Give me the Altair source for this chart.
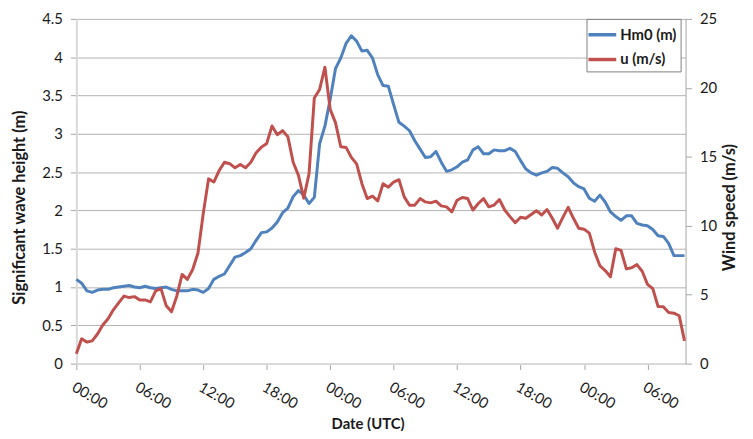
import altair as alt
import pandas as pd

# time in hours since first 00:00 (30-min samples)
hours = [i * 0.5 for i in range(116)]

hm0 = [
    1.10, 1.05, 0.95, 0.93, 0.96, 0.97, 0.97, 0.99, 1.00, 1.01,
    1.02, 1.00, 0.99, 1.01, 0.99, 0.98, 0.99, 1.00, 0.97, 0.95,
    0.95, 0.95, 0.97, 0.96, 0.93, 0.98, 1.10, 1.14, 1.17, 1.28,
    1.39, 1.41, 1.45, 1.50, 1.61, 1.71, 1.72, 1.77, 1.85, 1.97,
    2.03, 2.18, 2.26, 2.20, 2.09, 2.17, 2.87, 3.10, 3.45, 3.85,
    3.99, 4.18, 4.28, 4.21, 4.08, 4.09, 3.99, 3.77, 3.63, 3.62,
    3.38, 3.15, 3.10, 3.04, 2.91, 2.80, 2.69, 2.70, 2.77, 2.63,
    2.51, 2.53, 2.57, 2.63, 2.66, 2.79, 2.83, 2.74, 2.74, 2.79,
    2.78, 2.78, 2.81, 2.77, 2.65, 2.54, 2.49, 2.46, 2.49, 2.51,
    2.56, 2.55, 2.49, 2.44, 2.36, 2.31, 2.28, 2.16, 2.12, 2.20,
    2.11, 1.98, 1.92, 1.87, 1.93, 1.93, 1.83, 1.81, 1.80, 1.75,
    1.67, 1.66, 1.57, 1.41, 1.41, 1.41,
]

wind = [
    0.72, 1.80, 1.56, 1.65, 2.15, 2.80, 3.25, 3.90, 4.40, 4.90,
    4.79, 4.86, 4.62, 4.62, 4.48, 5.27, 5.44, 4.19, 3.76, 4.91,
    6.47, 6.11, 6.83, 8.02, 10.9, 13.4, 13.17, 14.0, 14.6, 14.5,
    14.2, 14.44, 14.2, 14.6, 15.3, 15.7, 15.97, 17.24, 16.6, 16.9,
    16.45, 14.6, 13.65, 12.0, 13.77, 19.27, 19.88, 21.5, 18.44, 17.48,
    15.73, 15.68, 14.96, 14.49, 13.05, 11.97, 12.14, 11.8, 13.05, 12.8,
    13.17, 13.34, 12.09, 11.49, 11.49, 11.97, 11.73, 11.66, 11.78, 11.44,
    11.37, 11.01, 11.85, 12.05, 11.97, 11.14, 11.61, 11.97, 11.37, 11.5,
    11.9, 11.14, 10.66, 10.22, 10.61, 10.54, 10.82, 11.09, 10.78, 11.18,
    10.54, 9.82, 10.61, 11.33, 10.54, 9.82, 9.75, 9.46, 8.1, 7.1,
    6.75, 6.30, 8.33, 8.21, 6.87, 6.95, 7.18, 6.70, 5.75, 5.44,
    4.14, 4.12, 3.71, 3.66, 3.47, 1.65,
]

series_names = ["Hm0 (m)", "u (m/s)"]
series_colors = ["#4F81BD", "#C0504D"]
x_tick_values = [0, 6, 12, 18, 24, 30, 36, 42, 48, 54]
x_tick_labels = ["00:00", "06:00", "12:00", "18:00"]
left_ticks = [0, 0.5, 1, 1.5, 2, 2.5, 3, 3.5, 4, 4.5]
right_ticks = [0, 5, 10, 15, 20, 25]

df = pd.DataFrame({"t": hours, "hm0": hm0, "u": wind})

FONT = "Lato"
TXT = "#1a1a1a"

color_scale = alt.Scale(domain=series_names, range=series_colors)
label_expr = "[" + ",".join("'%s'" % s for s in x_tick_labels) + "][round(datum.value/6)%4]"

x_enc = alt.X(
    "t:Q",
    scale=alt.Scale(domain=[0, 57.6], nice=False, zero=False),
    axis=alt.Axis(
        values=x_tick_values,
        labelExpr=label_expr,
        labelAngle=30,
        labelAlign="left",
        labelBaseline="top",
        labelFlush=False,
        labelOverlap=False,
        labelPadding=10,
        labelFontSize=15,
        grid=False,
        domainColor="#D9D9D9",
        domainWidth=2,
        tickColor="#A6A6A6",
        tickSize=6,
        title="Date (UTC)",
        titleFontSize=15,
        titleX=294,
        titleY=60,
        titleAlign="center",
        titleBaseline="middle",
    ),
)

base = alt.Chart(df)

hm_line = base.transform_calculate(series="'Hm0 (m)'").mark_line(
    strokeWidth=3, strokeJoin="round"
).encode(
    x=x_enc,
    y=alt.Y(
        "hm0:Q",
        scale=alt.Scale(domain=[0, 4.5], nice=False),
        axis=alt.Axis(
            values=left_ticks,
            format=".1~f",
            grid=True,
            gridColor="#B3B3B3",
            domainColor="#D9D9D9",
            domainWidth=2,
            tickColor="#A6A6A6",
            tickSize=6,
            labelPadding=8,
            labelFontSize=15,
            title="Significant wave height (m)",
            titleFontSize=16.5,
            titleAngle=270,
            titleX=-57,
            titleY=190,
            titleAlign="center",
            titleBaseline="middle",
        ),
    ),
    color=alt.Color(
        "series:N",
        scale=color_scale,
        legend=alt.Legend(
            title=None,
            orient="none",
            legendX=515,
            legendY=0,
        ),
    ),
)

u_line = base.transform_calculate(series="'u (m/s)'").mark_line(
    strokeWidth=3, strokeJoin="round"
).encode(
    x=x_enc,
    y=alt.Y(
        "u:Q",
        scale=alt.Scale(domain=[0, 25], nice=False),
        axis=alt.Axis(
            orient="right",
            values=right_ticks,
            grid=False,
            domainColor="#A6A6A6",
            tickColor="#A6A6A6",
            tickSize=6,
            labelPadding=8,
            labelFontSize=15,
            title="Wind speed (m/s)",
            titleFontSize=16.5,
            titleAngle=270,
            titleX=44,
            titleY=190,
            titleAlign="center",
            titleBaseline="middle",
        ),
    ),
    color=alt.Color("series:N", scale=color_scale),
)

chart = (
    alt.layer(hm_line, u_line)
    .resolve_scale(y="independent")
    .properties(
        width=615,
        height=348,
        autosize=alt.AutoSizeParams(type="none"),
        padding={"left": 69, "top": 9, "right": 60, "bottom": 66},
        background="white",
    )
    .configure_view(strokeWidth=0)
    .configure_axis(
        labelFont=FONT,
        labelColor=TXT,
        titleFont=FONT,
        titleFontWeight="bold",
        titleColor=TXT,
    )
    .configure_legend(
        labelFont=FONT,
        labelFontSize=15,
        labelFontWeight="bold",
        labelColor=TXT,
        symbolType="M-1.4,0L1.4,0",
        symbolSize=400,
        symbolStrokeWidth=3.5,
        strokeColor="#808080",
        fillColor="white",
        padding=4,
        rowPadding=5,
        labelOffset=6,
    )
)

chart.save("out.html", embed_options={"renderer": "svg", "actions": False})
